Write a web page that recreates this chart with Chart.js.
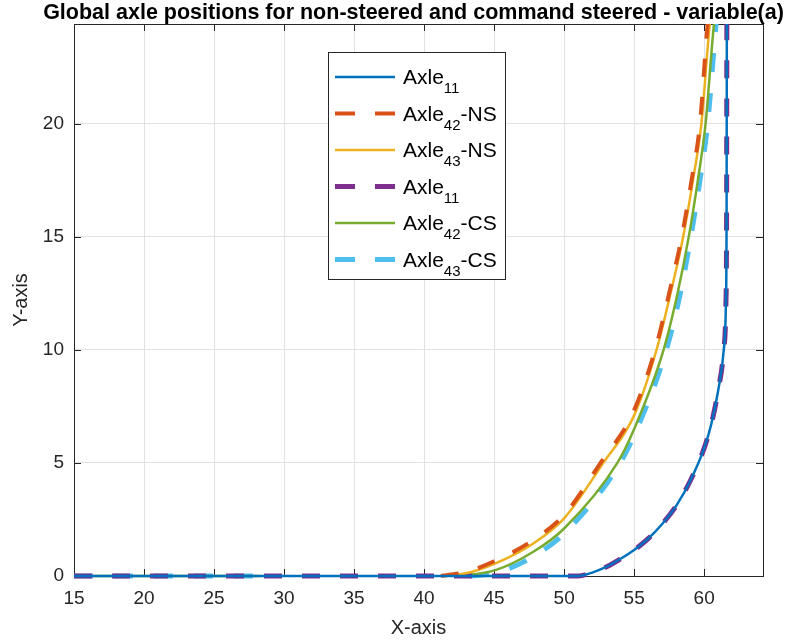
<!DOCTYPE html>
<html>
<head>
<meta charset="utf-8">
<script src="https://cdn.jsdelivr.net/npm/chart.js@4/dist/chart.umd.min.js"></script>
<style>
    html, body { margin: 0; padding: 0; background: #fff; }
    #wrap { width: 785px; height: 641px; }
</style>
</head>
<body>
<div id="wrap"><canvas id="chart" width="785" height="641"></canvas></div>
<script>
(function () {
    "use strict";

    var chartTitle = 'Global axle positions for non-steered and command steered - variable(a)';
    var xTitle = 'X-axis';
    var yTitle = 'Y-axis';
    var xTicks = [15, 20, 25, 30, 35, 40, 45, 50, 55, 60];
    var yTicks = [0, 5, 10, 15, 20];

    // series labels, _{..} marks a subscript
    var labels = ['Axle_{11}', 'Axle_{42}-NS', 'Axle_{43}-NS', 'Axle_{11}', 'Axle_{42}-CS', 'Axle_{43}-CS'];

    // front axle (plotted twice: solid and dashed)
    var axle11X = [15, 51, 52, 53, 54, 55, 56, 57, 58, 59, 60, 60.5, 61, 61.4, 61.55, 61.6, 61.62];
    var axle11Y = [0, 0, 0.15, 0.4, 0.75, 1.15, 1.65, 2.3, 3.1, 4.2, 5.65, 6.7, 8.2, 10, 12, 16, 25.3];

    // non-steered rear axles
    var axle42NsX = [41.2, 43, 45, 47.7, 50, 52.6, 54.9, 56.5, 57.5, 58.4, 59.1, 59.7, 60.25, 60.45];
    var axle42NsY = [0, 0.18, 0.65, 1.55, 2.7, 5, 7.2, 10, 12.5, 15, 17.5, 20, 24.4, 25.3];
    var axle43NsX = [41.5, 43, 45.1, 47.8, 50, 52.8, 55, 56.6, 57.6, 58.5, 59.2, 59.8, 60.4, 60.6];
    var axle43NsY = [0, 0.12, 0.56, 1.44, 2.55, 5, 7.1, 10, 12.5, 15, 17.5, 20, 24.4, 25.3];

    // command steered rear axles (null = break in the line)
    var axle42CsX = [15, 28.3, 28.4, 42.5, 45.1, 47.8, 50, 53.8, 55, 57.1, 58.1, 58.9, 59.55, 60.1, 60.7, 60.9];
    var axle42CsY = [0, 0, null, 0, 0.26, 1.07, 2.1, 5, 6.5, 10, 12.5, 15, 17.5, 20, 24.4, 25.3];
    var axle43CsX = [15, 28.3, 28.4, 43.3, 45.2, 47.9, 50.2, 54, 55.2, 57.3, 58.3, 59.05, 59.7, 60.25, 60.85, 61];
    var axle43CsY = [0, 0, null, 0, 0.15, 0.9, 2.0, 5, 6.5, 10, 12.5, 15, 17.5, 20, 24.4, 25.3];

    var FONT = "'Liberation Sans', Arial, sans-serif";
    var INK = '#262626';

    var toPoints = function (xs, ys) {
        return xs.map(function (x, i) { return { x: x, y: ys[i] }; });
    };

    var line = function (label, xs, ys, color, width, dash) {
        return {
            label: label,
            data: toPoints(xs, ys),
            borderColor: color,
            backgroundColor: color,
            borderWidth: width,
            borderDash: dash || [],
            pointRadius: 0,
            showLine: true,
            fill: false,
            cubicInterpolationMode: 'monotone',
            // let the thick lines on y = 0 show in full, cut them at the top
            clip: { left: 4, top: 0, right: 4, bottom: 4 }
        };
    };

    var datasets = [
        line(labels[0], axle11X, axle11Y, '#0072BD', 2.5),
        line(labels[1], axle42NsX, axle42NsY, '#D95319', 4, [18, 20]),
        line(labels[2], axle43NsX, axle43NsY, '#EDB120', 2.5),
        line(labels[3], axle11X, axle11Y, '#7E2F8E', 5, [18, 20]),
        line(labels[4], axle42CsX, axle42CsY, '#77AC30', 2.5),
        line(labels[5], axle43CsX, axle43CsY, '#4DBEEE', 5, [19, 21])
    ];

    // keep only the round tick values
    var keepTicks = function (values) {
        return function (scale) {
            scale.ticks = values.map(function (v) { return { value: v }; });
        };
    };

    // box round the plot with inward tick marks on all four sides
    var axesBox = {
        id: 'axesBox',
        beforeDatasetsDraw: function (chart) {
            var ctx = chart.ctx, a = chart.chartArea;
            var xs = chart.scales.x, ys = chart.scales.y;
            var len = 7;
            ctx.save();
            ctx.strokeStyle = INK;
            ctx.lineWidth = 1;
            ctx.strokeRect(Math.round(a.left) + 0.5, Math.round(a.top) + 0.5,
                Math.round(a.right - a.left), Math.round(a.bottom - a.top));
            ctx.beginPath();
            xTicks.forEach(function (v) {
                var px = Math.round(xs.getPixelForValue(v)) + 0.5;
                ctx.moveTo(px, a.bottom); ctx.lineTo(px, a.bottom - len);
                ctx.moveTo(px, a.top); ctx.lineTo(px, a.top + len);
            });
            yTicks.forEach(function (v) {
                var py = Math.round(ys.getPixelForValue(v)) + 0.5;
                ctx.moveTo(a.left, py); ctx.lineTo(a.left + len, py);
                ctx.moveTo(a.right, py); ctx.lineTo(a.right - len, py);
            });
            ctx.stroke();
            ctx.restore();
        }
    };

    var drawLabel = function (ctx, text, x, y) {
        var m = /^(.*?)_\{(.*?)\}(.*)$/.exec(text);
        var main = m ? m[1] : text, sub = m ? m[2] : '', tail = m ? m[3] : '';
        ctx.font = '21px ' + FONT;
        ctx.fillText(main, x, y);
        x += ctx.measureText(main).width;
        if (sub) {
            ctx.font = '15px ' + FONT;
            ctx.fillText(sub, x, y + 9);
            x += ctx.measureText(sub).width;
        }
        ctx.font = '21px ' + FONT;
        ctx.fillText(tail, x, y);
    };

    var titleAndLegend = {
        id: 'titleAndLegend',
        afterDraw: function (chart) {
            var ctx = chart.ctx, a = chart.chartArea;
            ctx.save();
            ctx.fillStyle = '#000';
            ctx.font = 'bold 21.5px ' + FONT;
            ctx.textAlign = 'center';
            ctx.textBaseline = 'middle';
            ctx.fillText(chartTitle, (a.left + a.right) / 2 - 5, 13);

            // legend box
            var bx = 328.5, by = 52.5, bw = 177, bh = 227;
            ctx.fillStyle = '#fff';
            ctx.fillRect(bx, by, bw, bh);
            ctx.strokeStyle = INK;
            ctx.lineWidth = 1;
            ctx.strokeRect(bx, by, bw, bh);

            ctx.textAlign = 'left';
            ctx.textBaseline = 'alphabetic';
            chart.data.datasets.forEach(function (ds, i) {
                var cy = 77 + i * 36.5;
                ctx.save();
                ctx.strokeStyle = ds.borderColor;
                ctx.lineWidth = ds.borderWidth;
                ctx.setLineDash(ds.borderDash.length ? [20, 20] : []);
                ctx.beginPath();
                ctx.moveTo(335, cy);
                ctx.lineTo(395, cy);
                ctx.stroke();
                ctx.restore();
                ctx.fillStyle = '#000';
                drawLabel(ctx, ds.label, 403, cy + 7);
            });
            ctx.restore();
        }
    };

    var ctx = document.getElementById('chart').getContext('2d');

    new Chart(ctx, {
        type: 'scatter',
        data: { datasets: datasets },
        options: {
            responsive: false,
            animation: false,
            devicePixelRatio: 1,
            layout: { padding: { top: 24, right: 22, bottom: 0, left: 0 } },
            plugins: {
                legend: { display: false },
                title: { display: false },
                tooltip: { enabled: false }
            },
            scales: {
                x: {
                    type: 'linear',
                    min: 15,
                    max: 64.2,
                    afterBuildTicks: keepTicks(xTicks),
                    afterFit: function (scale) { scale.height = 65; },
                    grid: { color: '#e2e2e2', lineWidth: 1, drawTicks: false },
                    border: { display: false },
                    ticks: { color: INK, padding: 11, font: { family: FONT, size: 19 }, maxRotation: 0 },
                    title: { display: true, text: xTitle, color: INK, padding: { top: 0, bottom: 1 }, font: { family: FONT, size: 20 } }
                },
                y: {
                    type: 'linear',
                    min: 0,
                    max: 24.4,
                    afterBuildTicks: keepTicks(yTicks),
                    afterFit: function (scale) { scale.width = 74; },
                    grid: { color: '#e2e2e2', lineWidth: 1, drawTicks: false },
                    border: { display: false },
                    ticks: { color: INK, padding: 10, font: { family: FONT, size: 19 } },
                    title: { display: true, text: yTitle, color: INK, padding: { top: 9, bottom: 0 }, font: { family: FONT, size: 20 } }
                }
            }
        },
        plugins: [axesBox, titleAndLegend]
    });
}());
</script>
</body>
</html>
